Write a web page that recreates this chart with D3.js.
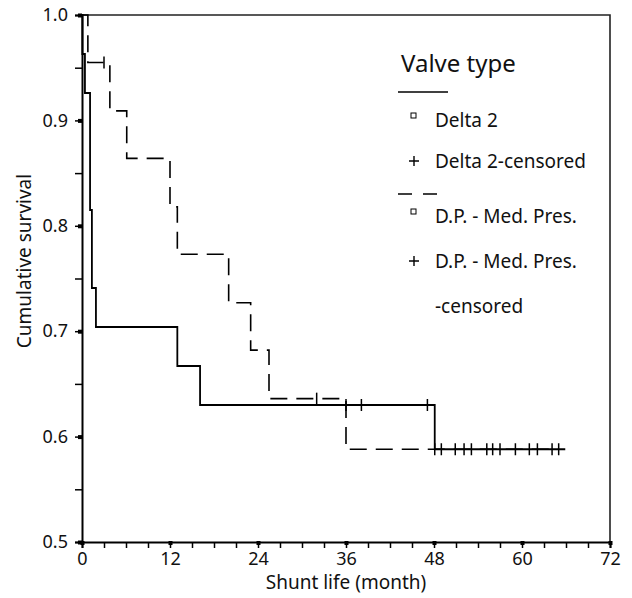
<!DOCTYPE html>
<html><head><meta charset="utf-8">
<script src="https://cdn.jsdelivr.net/npm/d3@7"></script>
<style>body{margin:0;background:#fff}svg{display:block}text{font-family:"Noto Sans",sans-serif;fill:#111}</style>
</head><body>
<script>
// ---- data ----
const delta2Times = [0, 0.05, 0.4, 1.1, 1.35, 1.9, 13.0, 16.1, 48.1, 65.9];
const delta2Surv  = [1.0, 0.963, 0.926, 0.815, 0.741, 0.704, 0.667, 0.630, 0.588, 0.588];
const delta2CensTimes = [36.0, 38.1, 47.1, 49.0, 52.1, 55.2, 57.0, 61.0, 64.1];
const dpTimes = [0, 0.8, 3.8, 6.1, 12.0, 13.0, 20.0, 23.0, 25.5, 36.0, 65.0];
const dpSurv  = [1.0, 0.955, 0.909, 0.864, 0.818, 0.773, 0.727, 0.682, 0.636, 0.588, 0.588];
const dpCensTimes = [3.0, 32.0, 48.1, 50.9, 53.1, 56.0, 59.1, 62.1, 65.0];
const xTicks = [0, 12, 24, 36, 48, 60, 72];
const yTicks = [0.5, 0.6, 0.7, 0.8, 0.9, 1.0];
const legendTitle = "Valve type";
const legendItems = ["Delta 2", "Delta 2-censored", "D.P. - Med. Pres.", "D.P. - Med. Pres.", "-censored"];

const W = 632, H = 598;
const svg = d3.select("body").append("svg").attr("width", W).attr("height", H);
const x = d3.scaleLinear().domain([0, 72]).range([82, 610]);
const y = d3.scaleLinear().domain([0.5, 1.0]).range([542, 15]);

// frame (top/right)
svg.append("path").attr("d", `M${x(0)},${y(1)}H${x(72)}V${y(0.5)}`)
  .attr("fill", "none").attr("stroke", "#222").attr("stroke-width", 1.6);

// x axis
const xAxis = d3.axisBottom(x).tickValues(d3.range(0, 73, 3)).tickSize(6)
  .tickFormat(d => xTicks.includes(d) ? d : "");
const gx = svg.append("g").attr("transform", `translate(0,${y(0.5)})`).call(xAxis);
gx.select(".domain").attr("stroke", "#000").attr("stroke-width", 2);
gx.selectAll(".tick line").attr("stroke", "#000").attr("stroke-width", 1.5);
gx.selectAll(".tick text").attr("font-size", 18).attr("dy", 0).attr("y", 23);
gx.selectAll(".tick").filter(d => xTicks.includes(d)).append("rect")
  .attr("x", -2).attr("y", -1).attr("width", 4).attr("height", 4).attr("fill", "#000");

// y axis
const yAxis = d3.axisLeft(y).tickValues(d3.range(0, 11).map(i => 0.5 + i * 0.05)).tickSize(7)
  .tickFormat(d => yTicks.some(v => Math.abs(v - d) < 1e-9) ? d3.format(".1f")(d) : "");
const gy = svg.append("g").attr("transform", `translate(${x(0)},0)`).call(yAxis);
gy.select(".domain").attr("stroke", "#000").attr("stroke-width", 2);
gy.selectAll(".tick line").attr("stroke", "#000").attr("stroke-width", 1.5);
gy.selectAll(".tick text").attr("font-size", 18).attr("x", -14);
gy.selectAll(".tick").filter(d => yTicks.some(v => Math.abs(v - d) < 1e-9)).append("rect")
  .attr("x", -4).attr("y", -2).attr("width", 4).attr("height", 4).attr("fill", "#000");

// axis titles
svg.append("text").attr("x", (x(0) + x(72)) / 2).attr("y", 589).attr("text-anchor", "middle")
  .attr("font-size", 19).text("Shunt life (month)");
svg.append("text").attr("transform", `translate(31,261) rotate(-90)`)
  .attr("text-anchor", "middle").attr("font-size", 19).text("Cumulative survival");

// step lines
const step = d3.line().x(d => x(d[0])).y(d => y(d[1])).curve(d3.curveStepAfter);
const dpPts = dpTimes.map((t, i) => [t, dpSurv[i]]);
const d2Pts = delta2Times.map((t, i) => [t, delta2Surv[i]]);
svg.append("path").attr("d", step(dpPts)).attr("fill", "none").attr("stroke", "#000")
  .attr("stroke-width", 1.6).attr("stroke-dasharray", "17,9");
svg.append("path").attr("d", step(d2Pts)).attr("fill", "none").attr("stroke", "#000")
  .attr("stroke-width", 1.8);

function survAt(times, surv, t) {
  let s = surv[0];
  for (let i = 0; i < times.length; i++) if (times[i] <= t) s = surv[i];
  return s;
}
function cens(times, surv, ct) {
  svg.append("g").selectAll("line").data(ct).join("line")
    .attr("x1", d => x(d)).attr("x2", d => x(d))
    .attr("y1", d => y(survAt(times, surv, d)) - 6).attr("y2", d => y(survAt(times, surv, d)) + 6)
    .attr("stroke", "#000").attr("stroke-width", 1.5);
}
cens(delta2Times, delta2Surv, delta2CensTimes);
cens(dpTimes, dpSurv, dpCensTimes);

// legend
const lg = svg.append("g");
lg.append("text").attr("x", 401).attr("y", 72).attr("font-size", 24).text(legendTitle);
lg.append("line").attr("x1", 398).attr("x2", 448).attr("y1", 92).attr("y2", 92)
  .attr("stroke", "#000").attr("stroke-width", 1.5);
lg.append("line").attr("x1", 398).attr("x2", 441).attr("y1", 194).attr("y2", 194)
  .attr("stroke", "#000").attr("stroke-width", 1.5).attr("stroke-dasharray", "14,11");
const ys = [127, 168, 223, 268, 313];
const marks = ["sq", "plus", "sq", "plus", null];
legendItems.forEach((t, i) => {
  lg.append("text").attr("x", 435).attr("y", ys[i]).attr("font-size", 19).text(t);
  if (marks[i] === "sq") {
    const my = ys[i] - 11;
    lg.append("rect").attr("x", 411).attr("y", my - 3).attr("width", 5).attr("height", 5)
      .attr("fill", "none").attr("stroke", "#000").attr("stroke-width", 1);
  } else if (marks[i] === "plus") {
    const my = ys[i] - 7;
    lg.append("path").attr("d", `M${409},${my}h10M${414},${my - 5}v10`)
      .attr("stroke", "#000").attr("stroke-width", 1.4);
  }
});
</script>
</body></html>
